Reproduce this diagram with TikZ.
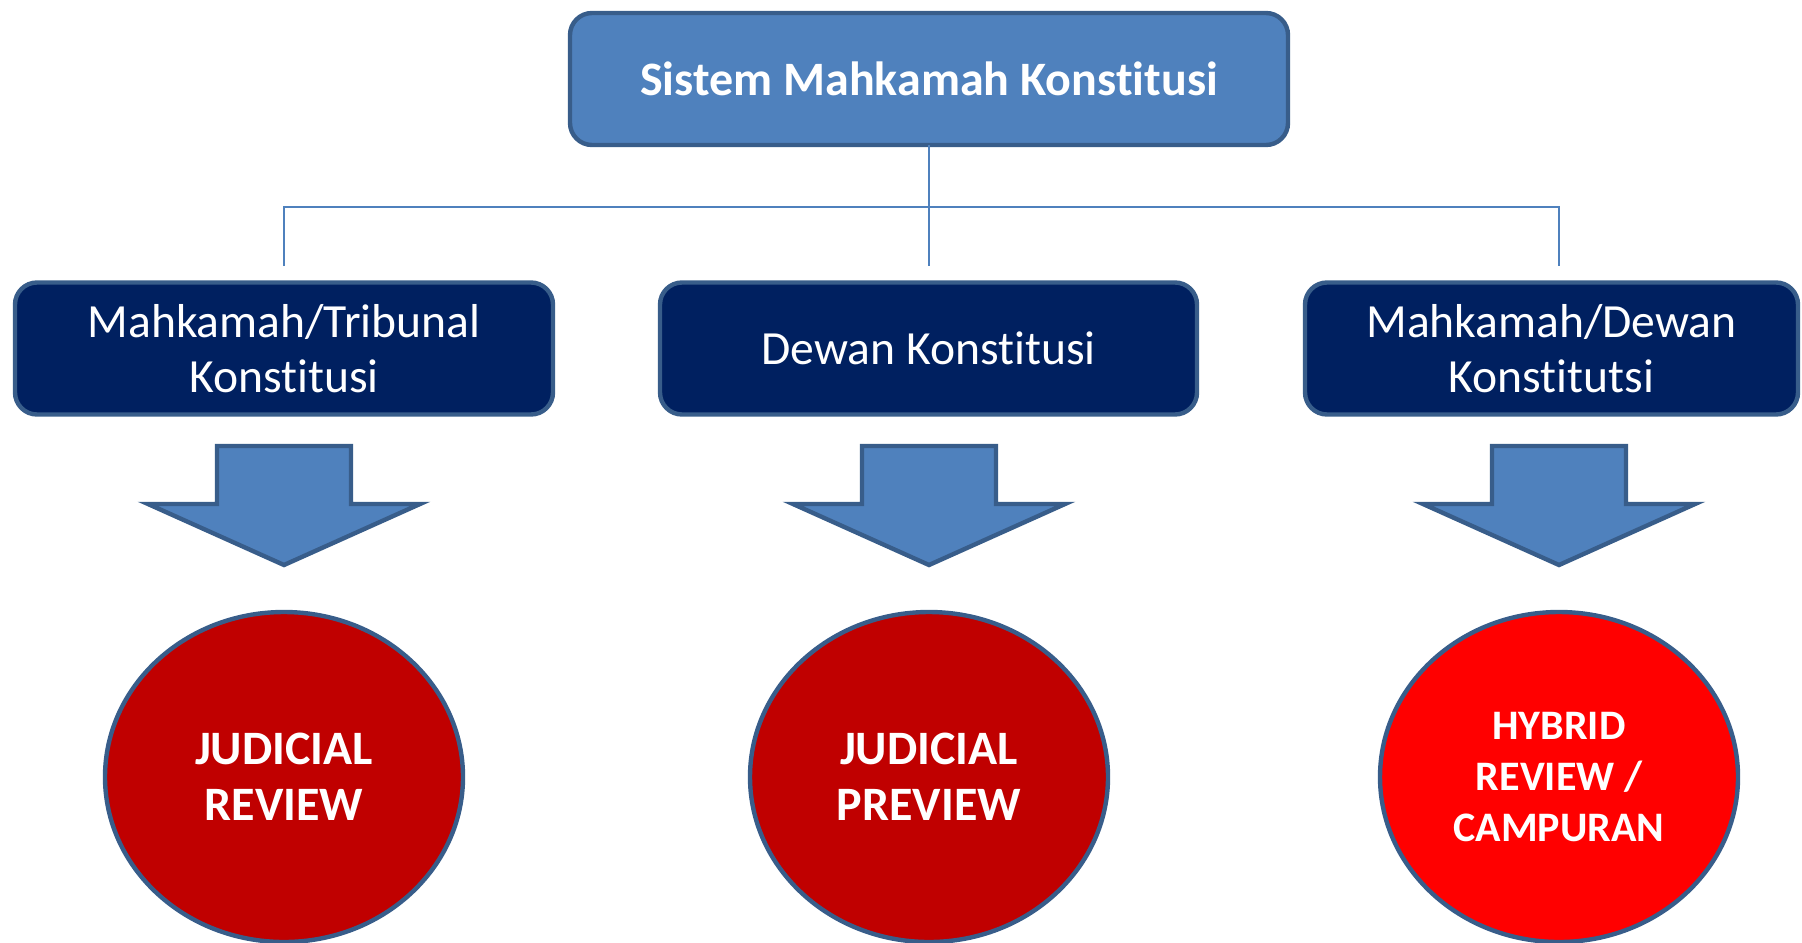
\documentclass[tikz,border=0pt]{standalone}
\usepackage{fontspec}
\setmainfont{Carlito}[Ligatures=NoCommon]
\usetikzlibrary{shapes.geometric}
\definecolor{headblue}{RGB}{79,129,189}
\definecolor{edgeblue}{RGB}{56,93,138}
\definecolor{navy}{RGB}{0,32,96}
\definecolor{darkred}{RGB}{192,0,0}
\definecolor{brightred}{RGB}{255,0,0}
\tikzset{
  topbox/.style={draw=edgeblue, fill=headblue, line width=2.2pt, rounded corners=11pt,
    minimum width=359pt, minimum height=66pt, outer sep=0pt, text=white,
    font=\fontsize{24}{29}\selectfont\bfseries},
  subbox/.style={draw=edgeblue, fill=navy, line width=2.2pt, rounded corners=11pt,
    minimum height=66pt, outer sep=0pt, align=center, text=white,
    font=\fontsize{23.8}{27.5}\selectfont},
  oval/.style={ellipse, draw=edgeblue, line width=2.2pt, minimum width=179pt,
    minimum height=165pt, inner sep=0pt, align=center, text=white,
    font=\fontsize{24}{28}\selectfont\bfseries},
  link/.style={draw=headblue, line width=1pt},
  blockarrow/.style={draw=edgeblue, fill=headblue, line width=2.2pt}
}
\begin{document}
\begin{tikzpicture}[x=0.5pt,y=0.5pt,yscale=-1,xscale=1]
\useasboundingbox (0,0) rectangle (1802,942);
% top and middle row
\node[topbox] (sistem) at (929,79) {Sistem Mahkamah Konstitusi};
\node[subbox, minimum width=269pt] (tribunal) at (284,348.5) {Mahkamah/Tribunal\\Konstitusi};
\node[subbox, minimum width=268.5pt] (dewan) at (928.5,348.5) {Dewan Konstitusi};
\node[subbox, minimum width=246.5pt] (campur) at (1551.5,348.5) {Mahkamah/Dewan\\Konstitutsi};
% connectors
\coordinate (bus) at (929,207);
\coordinate (tribunal-top) at (284,266);
\coordinate (dewan-top) at (929,266);
\coordinate (campur-top) at (1559,266);
\draw[link] (sistem.south) -- (dewan-top);
\draw[link] (tribunal-top) |- (bus) -| (campur-top);
% block arrows
\foreach \cx in {284,929,1559}
  \draw[blockarrow] (\cx-67,446) -- (\cx+67,446) -- (\cx+67,504) -- (\cx+136,504) -- (\cx,565) -- (\cx-136,504) -- (\cx-67,504) -- cycle;
% circles
\node[oval, fill=darkred] (jreview) at (284,777) {JUDICIAL\\REVIEW};
\node[oval, fill=darkred] (jpreview) at (929,777) {JUDICIAL\\PREVIEW};
\node[oval, fill=brightred, font=\fontsize{21}{25.5}\selectfont\bfseries] (hreview) at (1559,777) {HYBRID\\REVIEW /\\CAMPURAN};
\end{tikzpicture}
\end{document}
